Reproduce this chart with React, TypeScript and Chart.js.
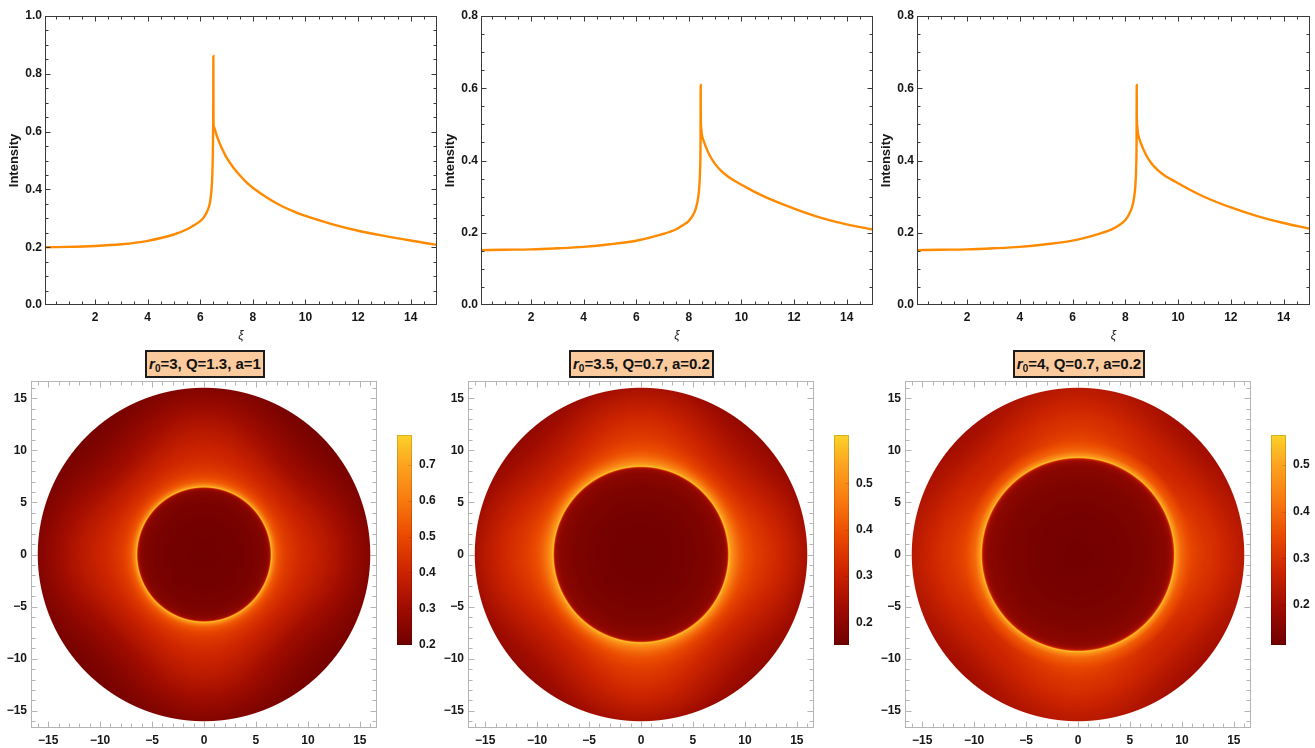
import React, { useEffect, useRef } from 'react';
import { Chart, registerables } from 'chart.js';
Chart.register(...registerables);

const FAMILY = "'Liberation Sans', Arial, Helvetica, sans-serif";
const TEXT = '#161616';
const LINE_COLOR = '#ff8a00';
const TOP_FRAME = '#3a3a3a';
const DENSITY_FRAME = '#b4b4b4';

// ---------------- Top row: intensity profiles I(xi) ----------------
const XI_MIN = 0.1;
const XI_MAX = 15;
const XI_TICKS = [2, 4, 6, 8, 10, 12, 14];
const INT_TICKS_1 = [0, 0.2, 0.4, 0.6, 0.8, 1.0];
const INT_TICKS_23 = [0, 0.2, 0.4, 0.6, 0.8];

const XI_1 = [0.1, 1, 2, 3, 4, 5, 5.5, 5.8, 6.0, 6.15, 6.27, 6.36, 6.42, 6.46, 6.48, 6.495, 6.5, 6.505, 6.52, 6.57, 6.64, 6.77, 6.9, 7.02, 7.27, 7.52, 7.75, 8.02, 8.5, 9, 9.5, 10, 11, 12, 13, 14, 15];
const INT_1 = [0.2, 0.201, 0.204, 0.21, 0.222, 0.244, 0.262, 0.278, 0.29, 0.305, 0.325, 0.35, 0.39, 0.45, 0.53, 0.68, 0.862, 0.64, 0.617, 0.603, 0.583, 0.553, 0.528, 0.507, 0.474, 0.447, 0.425, 0.404, 0.374, 0.347, 0.326, 0.308, 0.28, 0.257, 0.239, 0.223, 0.208];

const XI_2 = [0.1, 1, 2, 3, 4, 5, 6, 7, 7.5, 7.8, 8.0, 8.15, 8.27, 8.35, 8.4, 8.43, 8.445, 8.45, 8.455, 8.47, 8.5, 8.56, 8.65, 8.8, 9, 9.25, 9.5, 9.75, 10, 10.5, 11, 12, 13, 14, 15];
const INT_2 = [0.152, 0.153, 0.154, 0.157, 0.161, 0.168, 0.178, 0.196, 0.209, 0.222, 0.233, 0.248, 0.268, 0.295, 0.33, 0.38, 0.46, 0.609, 0.52, 0.49, 0.47, 0.455, 0.437, 0.413, 0.39, 0.37, 0.355, 0.343, 0.333, 0.313, 0.296, 0.267, 0.242, 0.223, 0.209];

const XI_3 = [0.1, 1, 2, 3, 4, 5, 6, 7, 7.5, 7.8, 8.0, 8.13, 8.25, 8.33, 8.38, 8.41, 8.425, 8.43, 8.435, 8.45, 8.48, 8.54, 8.63, 8.78, 9, 9.25, 9.5, 9.75, 10, 10.5, 11, 12, 13, 14, 15];
const INT_3 = [0.152, 0.153, 0.154, 0.157, 0.161, 0.168, 0.178, 0.197, 0.21, 0.223, 0.235, 0.25, 0.27, 0.297, 0.332, 0.382, 0.46, 0.609, 0.525, 0.495, 0.474, 0.458, 0.44, 0.416, 0.391, 0.372, 0.358, 0.347, 0.337, 0.317, 0.299, 0.27, 0.246, 0.227, 0.211];

// ---------------- Bottom row: shadow images ----------------
const PLOT_HALF = 16.65;
const DISK_RADIUS = 16;
const XY_TICKS = [-15, -10, -5, 0, 5, 10, 15];

const PARAM_R0 = ['3', '3.5', '4'];
const PARAM_Q = ['1.3', '0.7', '0.7'];
const PARAM_A = ['1', '0.2', '0.2'];

// radial intensity read along the axes and along the diagonals
const RING_1 = 6.45;
const DISK_R_1 = [0, 3, 5, 5.9, 6.2, 6.35, 6.42, 6.47, 6.55, 6.7, 7, 7.5, 8, 9, 10, 11.5, 13, 14.5, 16];
const DISK_AXIS_1 = [0.2, 0.205, 0.22, 0.24, 0.27, 0.32, 0.5, 0.78, 0.7, 0.62, 0.54, 0.49, 0.46, 0.425, 0.4, 0.365, 0.325, 0.28, 0.24];
const DISK_DIAG_1 = [0.2, 0.205, 0.22, 0.24, 0.27, 0.32, 0.5, 0.78, 0.7, 0.61, 0.53, 0.475, 0.44, 0.395, 0.36, 0.305, 0.265, 0.232, 0.21];

const RING_2 = 8.45;
const DISK_R_2 = [0, 4, 6.5, 7.8, 8.2, 8.33, 8.4, 8.45, 8.52, 8.65, 9, 9.5, 10, 11, 12, 13, 14.5, 16];
const DISK_AXIS_2 = [0.155, 0.16, 0.175, 0.195, 0.22, 0.27, 0.42, 0.6, 0.56, 0.52, 0.47, 0.425, 0.395, 0.36, 0.34, 0.32, 0.285, 0.245];
const DISK_DIAG_2 = [0.155, 0.16, 0.175, 0.195, 0.22, 0.27, 0.42, 0.6, 0.56, 0.51, 0.445, 0.39, 0.355, 0.315, 0.29, 0.265, 0.235, 0.207];

const RING_3 = 9.3;
const DISK_R_3 = [0, 4, 7, 8.6, 9.0, 9.18, 9.25, 9.3, 9.37, 9.5, 9.9, 10.5, 11, 12, 13, 14, 15, 16];
const DISK_AXIS_3 = [0.12, 0.125, 0.14, 0.16, 0.19, 0.25, 0.4, 0.56, 0.51, 0.47, 0.4, 0.36, 0.335, 0.31, 0.295, 0.275, 0.255, 0.236];
const DISK_DIAG_3 = [0.12, 0.125, 0.14, 0.16, 0.19, 0.25, 0.4, 0.56, 0.51, 0.46, 0.375, 0.33, 0.29, 0.27, 0.254, 0.23, 0.21, 0.196];

const CB_RANGE_1 = [0.198, 0.783];
const CB_RANGE_2 = [0.151, 0.604];
const CB_RANGE_3 = [0.114, 0.564];
const CB_TICKS_1 = [0.2, 0.3, 0.4, 0.5, 0.6, 0.7];
const CB_TICKS_2 = [0.2, 0.3, 0.4, 0.5];
const CB_TICKS_3 = [0.2, 0.3, 0.4, 0.5];

// colour scheme (dark red -> red -> orange -> yellow)
const CMAP_T = [0, 0.18, 0.35, 0.52, 0.69, 0.86, 1];
const CMAP_RGB = [
  [112, 0, 0],
  [160, 12, 0],
  [204, 36, 0],
  [234, 74, 0],
  [248, 122, 16],
  [252, 164, 32],
  [252, 210, 40],
];

// ---------------- helpers ----------------
function steps(a: number, b: number, step: number) {
  const out: number[] = [];
  for (let v = a; v <= b + 1e-9; v += step) out.push(Math.round(v * 1e6) / 1e6);
  return out;
}

function interp(xs: number[], ys: number[], x: number) {
  const n = xs.length;
  if (x <= xs[0]) return ys[0];
  if (x >= xs[n - 1]) return ys[n - 1];
  let i = 1;
  while (xs[i] < x) i++;
  const t = (x - xs[i - 1]) / (xs[i] - xs[i - 1]);
  return ys[i - 1] + t * (ys[i] - ys[i - 1]);
}

function cmap(t: number) {
  const c = Math.max(0, Math.min(1, t));
  let i = 1;
  while (i < CMAP_T.length - 1 && CMAP_T[i] < c) i++;
  const f = (c - CMAP_T[i - 1]) / (CMAP_T[i] - CMAP_T[i - 1]);
  const a = CMAP_RGB[i - 1];
  const b = CMAP_RGB[i];
  return [a[0] + f * (b[0] - a[0]), a[1] + f * (b[1] - a[1]), a[2] + f * (b[2] - a[2])];
}

const minus = (v: number) => (v < 0 ? '\u2212' + Math.abs(v) : String(v));

function makeFrame(color: string, xMajor: number[], xMinor: number[], yMajor: number[], yMinor: number[], majLen: number, minLen: number) {
  return {
    id: 'frameTicks',
    afterDraw(chart: any) {
      const { ctx, chartArea: a } = chart;
      const xs = chart.scales.x;
      const ys = chart.scales.y;
      const L = Math.round(a.left) + 0.5;
      const R = Math.round(a.right) - 0.5;
      const T = Math.round(a.top) + 0.5;
      const B = Math.round(a.bottom) - 0.5;
      ctx.save();
      ctx.strokeStyle = color;
      ctx.lineWidth = 1;
      ctx.beginPath();
      const xt = (vals: number[], len: number) => {
        for (const v of vals) {
          const p = Math.round(xs.getPixelForValue(v)) + 0.5;
          if (p <= L || p >= R) continue;
          ctx.moveTo(p, B); ctx.lineTo(p, B - len);
          ctx.moveTo(p, T); ctx.lineTo(p, T + len);
        }
      };
      const yt = (vals: number[], len: number) => {
        for (const v of vals) {
          const p = Math.round(ys.getPixelForValue(v)) + 0.5;
          if (p <= T || p >= B) continue;
          ctx.moveTo(L, p); ctx.lineTo(L + len, p);
          ctx.moveTo(R, p); ctx.lineTo(R - len, p);
        }
      };
      xt(xMajor, majLen); xt(xMinor, minLen);
      yt(yMajor, majLen); yt(yMinor, minLen);
      ctx.stroke();
      ctx.strokeRect(L, T, R - L, B - T);
      ctx.restore();
    },
  };
}

// ---------------- top line charts ----------------
type LineCfg = { left: number; width: number; xi: number[]; vals: number[]; yMax: number; yTicks: number[] };

function TopChart({ cfg }: { cfg: LineCfg }) {
  const ref = useRef<HTMLCanvasElement>(null);
  useEffect(() => {
    const tickFont = { family: FAMILY, size: 12, weight: 'bold' as const };
    const xMinor = steps(0.5, 14.5, 0.5).filter((v) => !XI_TICKS.includes(v));
    const yMinor = steps(0.05, cfg.yMax, 0.05).filter((v) => !cfg.yTicks.some((t) => Math.abs(t - v) < 1e-6));
    const chart = new Chart(ref.current as HTMLCanvasElement, {
      type: 'line',
      data: {
        datasets: [
          {
            data: cfg.xi.map((x, i) => ({ x, y: cfg.vals[i] })),
            borderColor: LINE_COLOR,
            borderWidth: 2.4,
            pointRadius: 0,
            cubicInterpolationMode: 'monotone',
            fill: false,
          } as any,
        ],
      },
      options: {
        animation: false,
        responsive: false,
        maintainAspectRatio: false,
        layout: { padding: { left: 0, right: 3, top: 16, bottom: 0 } },
        plugins: { legend: { display: false }, tooltip: { enabled: false } },
        scales: {
          x: {
            type: 'linear',
            min: XI_MIN,
            max: XI_MAX,
            grid: { display: false, drawTicks: false },
            border: { display: false },
            afterBuildTicks: (s: any) => { s.ticks = XI_TICKS.map((v) => ({ value: v })); },
            afterFit: (s: any) => { s.height = 40; },
            ticks: { autoSkip: false, maxRotation: 0, padding: 5, font: tickFont, color: TEXT, callback: (v: any) => String(v) },
            title: { display: true, text: 'ξ', color: TEXT, font: { family: FAMILY, size: 12, style: 'italic' }, padding: { top: 0, bottom: 2 } },
          },
          y: {
            type: 'linear',
            min: 0,
            max: cfg.yMax,
            grid: { display: false, drawTicks: false },
            border: { display: false },
            afterBuildTicks: (s: any) => { s.ticks = cfg.yTicks.map((v) => ({ value: v })); },
            afterFit: (s: any) => { s.width = 45; },
            ticks: { autoSkip: false, padding: 3, font: tickFont, color: TEXT, callback: (v: any) => Number(v).toFixed(1) },
            title: { display: true, text: 'Intensity', color: TEXT, font: { family: FAMILY, size: 13, weight: 'bold' }, padding: { top: 7, bottom: 0 } },
          },
        },
      } as any,
      plugins: [makeFrame(TOP_FRAME, XI_TICKS, xMinor, cfg.yTicks, yMinor, 5, 3)],
    });
    return () => chart.destroy();
  }, [cfg]);
  return (
    <canvas
      ref={ref}
      width={cfg.width}
      height={345}
      style={{ position: 'absolute', left: cfg.left, top: 0, width: cfg.width, height: 345 }}
    />
  );
}

// ---------------- bottom density disks ----------------
type DiskCfg = { left: number; ring: number; radii: number[]; axis: number[]; diag: number[]; range: number[] };

function heatPlugin(cfg: DiskCfg) {
  return {
    id: 'heat',
    beforeDatasetsDraw(chart: any) {
      const { ctx, chartArea: a } = chart;
      const xs = chart.scales.x;
      const ys = chart.scales.y;
      const x0 = Math.floor(a.left);
      const y0 = Math.floor(a.top);
      const w = Math.ceil(a.right) - x0;
      const h = Math.ceil(a.bottom) - y0;
      const off = document.createElement('canvas');
      off.width = w;
      off.height = h;
      const octx = off.getContext('2d') as CanvasRenderingContext2D;
      const img = octx.createImageData(w, h);
      const pxPerUnit = Math.abs(xs.getPixelForValue(1) - xs.getPixelForValue(0));
      const [vmin, vmax] = cfg.range;
      const colorAt = (px: number, py: number) => {
        const vx = xs.getValueForPixel(px);
        const vy = ys.getValueForPixel(py);
        const r = Math.hypot(vx, vy);
        const s = Math.sin(2 * Math.atan2(vy, vx));
        const va = interp(cfg.radii, cfg.axis, r);
        const vd = interp(cfg.radii, cfg.diag, r);
        const v = va + (vd - va) * s * s;
        return cmap((v - vmin) / (vmax - vmin));
      };
      for (let j = 0; j < h; j++) {
        for (let i = 0; i < w; i++) {
          const cx = x0 + i + 0.5;
          const cy = y0 + j + 0.5;
          const vx = xs.getValueForPixel(cx);
          const vy = ys.getValueForPixel(cy);
          const r = Math.hypot(vx, vy);
          const cover = (DISK_RADIUS - r) * pxPerUnit + 0.5;
          if (cover <= 0) continue;
          let col: number[];
          if (Math.abs(r - cfg.ring) < 0.5) {
            const n = 4;
            let R = 0, G = 0, B = 0;
            for (let u = 0; u < n; u++) {
              for (let k = 0; k < n; k++) {
                const c = colorAt(x0 + i + (u + 0.5) / n, y0 + j + (k + 0.5) / n);
                R += c[0]; G += c[1]; B += c[2];
              }
            }
            col = [R / (n * n), G / (n * n), B / (n * n)];
          } else {
            col = colorAt(cx, cy);
          }
          const idx = (j * w + i) * 4;
          img.data[idx] = col[0];
          img.data[idx + 1] = col[1];
          img.data[idx + 2] = col[2];
          img.data[idx + 3] = Math.round(255 * Math.min(1, cover));
        }
      }
      octx.putImageData(img, 0, 0);
      ctx.drawImage(off, x0, y0);
    },
  };
}

function DiskChart({ cfg }: { cfg: DiskCfg }) {
  const ref = useRef<HTMLCanvasElement>(null);
  useEffect(() => {
    const tickFont = { family: FAMILY, size: 12, weight: 'bold' as const };
    const minor = steps(-16, 16, 1).filter((v) => !XY_TICKS.includes(v));
    const axisCommon = {
      type: 'linear',
      min: -PLOT_HALF,
      max: PLOT_HALF,
      grid: { display: false, drawTicks: false },
      border: { display: false },
      afterBuildTicks: (s: any) => { s.ticks = XY_TICKS.map((v) => ({ value: v })); },
    };
    const chart = new Chart(ref.current as HTMLCanvasElement, {
      type: 'scatter',
      data: { datasets: [{ data: [] }] },
      options: {
        animation: false,
        responsive: false,
        maintainAspectRatio: false,
        layout: { padding: { left: 0, right: 3, top: 14, bottom: 0 } },
        plugins: { legend: { display: false }, tooltip: { enabled: false } },
        scales: {
          x: {
            ...axisCommon,
            afterFit: (s: any) => { s.height = 20; },
            ticks: { autoSkip: false, maxRotation: 0, padding: 5, font: tickFont, color: TEXT, callback: (v: any) => minus(Number(v)) },
          },
          y: {
            ...axisCommon,
            afterFit: (s: any) => { s.width = 31; },
            ticks: { autoSkip: false, padding: 4, font: tickFont, color: TEXT, callback: (v: any) => minus(Number(v)) },
          },
        },
      } as any,
      plugins: [heatPlugin(cfg), makeFrame(DENSITY_FRAME, XY_TICKS, minor, XY_TICKS, minor, 6, 4)],
    });
    return () => chart.destroy();
  }, [cfg]);
  return (
    <canvas
      ref={ref}
      width={380}
      height={381}
      style={{ position: 'absolute', left: cfg.left, top: 367, width: 380, height: 381 }}
    />
  );
}

// ---------------- colour bars ----------------
type BarCfg = { left: number; range: number[]; ticks: number[] };

function ColorBar({ cfg }: { cfg: BarCfg }) {
  const ref = useRef<HTMLCanvasElement>(null);
  useEffect(() => {
    const gradient = {
      id: 'gradient',
      beforeDatasetsDraw(chart: any) {
        const { ctx, chartArea: a } = chart;
        const ys = chart.scales.y;
        const g = ctx.createLinearGradient(0, ys.getPixelForValue(cfg.range[0]), 0, ys.getPixelForValue(cfg.range[1]));
        CMAP_T.forEach((t, i) => {
          const c = CMAP_RGB[i];
          g.addColorStop(t, `rgb(${c[0]},${c[1]},${c[2]})`);
        });
        ctx.save();
        ctx.fillStyle = g;
        ctx.fillRect(a.left, a.top, a.right - a.left, a.bottom - a.top);
        ctx.strokeStyle = 'rgba(0,0,0,0.12)';
        ctx.lineWidth = 1;
        ctx.beginPath();
        for (const v of cfg.ticks) {
          const p = Math.round(ys.getPixelForValue(v)) + 0.5;
          ctx.moveTo(a.right - 4, p);
          ctx.lineTo(a.right, p);
        }
        ctx.stroke();
        ctx.strokeStyle = 'rgba(0,0,0,0.15)';
        ctx.strokeRect(a.left + 0.5, a.top + 0.5, a.right - a.left - 1, a.bottom - a.top - 1);
        ctx.restore();
      },
    };
    const chart = new Chart(ref.current as HTMLCanvasElement, {
      type: 'scatter',
      data: { datasets: [{ data: [] }] },
      options: {
        animation: false,
        responsive: false,
        maintainAspectRatio: false,
        layout: { padding: { left: 0, right: 0, top: 15, bottom: 15 } },
        plugins: { legend: { display: false }, tooltip: { enabled: false } },
        scales: {
          x: { display: false },
          y: {
            type: 'linear',
            position: 'right',
            min: cfg.range[0],
            max: cfg.range[1],
            grid: { display: false, drawTicks: false },
            border: { display: false },
            afterBuildTicks: (s: any) => { s.ticks = cfg.ticks.map((v) => ({ value: v })); },
            afterFit: (s: any) => { s.width = 29; },
            ticks: { autoSkip: false, padding: 7, font: { family: FAMILY, size: 12, weight: 'bold' }, color: TEXT, callback: (v: any) => Number(v).toFixed(1) },
          },
        },
      } as any,
      plugins: [gradient],
    });
    return () => chart.destroy();
  }, [cfg]);
  return (
    <canvas
      ref={ref}
      width={44}
      height={240}
      style={{ position: 'absolute', left: cfg.left, top: 420, width: 44, height: 240 }}
    />
  );
}

function TitleBox({ left, width, i }: { left: number; width: number; i: number }) {
  return (
    <div
      style={{
        position: 'absolute',
        left,
        top: 350,
        width,
        height: 28,
        boxSizing: 'border-box',
        border: '2px solid #1c1c1c',
        background: '#fbcb9d',
        fontFamily: FAMILY,
        fontWeight: 'bold',
        fontSize: 15,
        lineHeight: '23px',
        textAlign: 'center',
        color: '#111',
        whiteSpace: 'nowrap',
      }}
    >
      <i>r</i>
      <span style={{ fontSize: 10, position: 'relative', top: 3 }}>0</span>={PARAM_R0[i]}, Q={PARAM_Q[i]}, a={PARAM_A[i]}
    </div>
  );
}

const LINE_PANELS: LineCfg[] = [
  { left: 0, width: 440, xi: XI_1, vals: INT_1, yMax: 1.0, yTicks: INT_TICKS_1 },
  { left: 436, width: 440, xi: XI_2, vals: INT_2, yMax: 0.8, yTicks: INT_TICKS_23 },
  { left: 872, width: 441, xi: XI_3, vals: INT_3, yMax: 0.8, yTicks: INT_TICKS_23 },
];

const DISK_PANELS: DiskCfg[] = [
  { left: 0, ring: RING_1, radii: DISK_R_1, axis: DISK_AXIS_1, diag: DISK_DIAG_1, range: CB_RANGE_1 },
  { left: 437, ring: RING_2, radii: DISK_R_2, axis: DISK_AXIS_2, diag: DISK_DIAG_2, range: CB_RANGE_2 },
  { left: 874, ring: RING_3, radii: DISK_R_3, axis: DISK_AXIS_3, diag: DISK_DIAG_3, range: CB_RANGE_3 },
];

const BAR_PANELS: BarCfg[] = [
  { left: 397, range: CB_RANGE_1, ticks: CB_TICKS_1 },
  { left: 834, range: CB_RANGE_2, ticks: CB_TICKS_2 },
  { left: 1271, range: CB_RANGE_3, ticks: CB_TICKS_3 },
];

const TITLE_BOXES = [
  { left: 145, width: 120 },
  { left: 569, width: 145 },
  { left: 1013, width: 132 },
];

export default function App() {
  return (
    <div style={{ position: 'absolute', left: 0, top: 0, width: 1315, height: 748, background: '#fff', overflow: 'hidden' }}>
      {LINE_PANELS.map((p, i) => <TopChart key={'t' + i} cfg={p} />)}
      {DISK_PANELS.map((p, i) => <DiskChart key={'d' + i} cfg={p} />)}
      {BAR_PANELS.map((p, i) => <ColorBar key={'b' + i} cfg={p} />)}
      {TITLE_BOXES.map((b, i) => <TitleBox key={'h' + i} left={b.left} width={b.width} i={i} />)}
    </div>
  );
}
